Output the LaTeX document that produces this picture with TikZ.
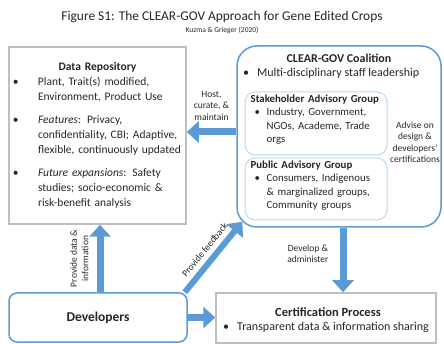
\documentclass[tikz,border=0pt]{standalone}
\usepackage{fontspec}
\setmainfont{Carlito}
\usetikzlibrary{arrows.meta,positioning}

\definecolor{arrblue}{HTML}{5B9BD5}
\definecolor{paleblue}{HTML}{BDD7EE}
\definecolor{boxgray}{HTML}{BFBFBF}
\definecolor{txtgray}{HTML}{262626}

% bullet line with hanging indent
\newcommand{\bul}[3][29pt]{\par\hangindent=#1\hangafter=1\noindent\makebox[#1][l]{\hspace{#2}\textbullet}#3}

\tikzset{
  graybox/.style={draw=boxgray,line width=1.5pt,inner sep=0pt},
  bluebox/.style={draw=arrblue,line width=1.5pt,rounded corners=#1,inner sep=0pt},
  palebox/.style={draw=paleblue,line width=1pt,rounded corners=10pt,inner sep=0pt},
  bigarrow/.style={draw=arrblue,line width=7pt,-{Triangle[length=12pt,width=21pt]}},
  small/.style={font=\fontsize{9.5}{11.5}\selectfont,align=center,inner sep=0pt},
  body/.style={font=\fontsize{11.5}{15}\selectfont,inner sep=0pt},
  inner/.style={font=\fontsize{10.8}{13.5}\selectfont,inner sep=0pt,text width=138pt,align=left,anchor=north west}
}

\begin{document}
\begin{tikzpicture}[x=1pt,y=-1pt,text=txtgray]
\useasboundingbox (0,0) rectangle (444,344);

\node[font=\fontsize{13.4}{15}\selectfont] (title) at (222,17) {Figure S1: The CLEAR-GOV Approach for Gene Edited Crops};
\node[font=\fontsize{7.5}{8}\selectfont] (sub) at (222,30) {Kuzma \& Grieger (2020)};

% boxes
\node[graybox,minimum width=177pt,minimum height=177pt] (repo) at (97.5,135.5) {};
\node[bluebox=20pt,minimum width=204pt,minimum height=181pt] (coal) at (339,136.5) {};
\node[palebox,minimum width=142pt,minimum height=63pt] (stake) at (316,123.5) {};
\node[palebox,minimum width=142pt,minimum height=62pt] (pub) at (316,189) {};
\node[bluebox=8pt,minimum width=178pt,minimum height=49pt] (dev) at (98,317.5) {};
\node[graybox,minimum width=220pt,minimum height=50pt] (cert) at (326,318) {};

% data repository
\node[body,text width=177pt,align=left] (repotxt) at (repo.center) {%
  {\centering\fontsize{11.5}{15}\selectfont\textbf{Data Repository}\par}
  \bul{4pt}{Plant, Trait(s) modified,\newline Environment, Product Use}
  \par\vspace{8pt}
  \bul{4pt}{\textit{Features}: Privacy,\newline confidentiality, CBI; Adaptive,\newline flexible, continuously updated}
  \par\vspace{8pt}
  \bul{4pt}{\textit{Future expansions}: Safety\newline studies; socio-economic \&\newline risk-benefit analysis}\par};

% coalition
\node[font=\fontsize{12}{14}\selectfont\bfseries] (coaltitle) at (339,58) {CLEAR-GOV Coalition};
\node[body,font=\fontsize{12}{14}\selectfont,anchor=west] (coallead) at (243,73) {\textbullet\hspace{8pt}Multi-disciplinary staff leadership};
\node[inner] (staketxt) at ([xshift=6pt,yshift=-3pt]stake.north west) {%
  \textbf{Stakeholder Advisory Group}
  \bul[16pt]{4pt}{Industry, Government,\newline NGOs, Academe, Trade\newline orgs}\par};
\node[inner] (pubtxt) at ([xshift=6pt,yshift=-3pt]pub.north west) {%
  \textbf{Public Advisory Group}
  \bul[16pt]{4pt}{Consumers, Indigenous\newline \& marginalized groups,\newline Community groups}\par};
\node[small] (advise) at (415,142) {Advise on\\ design \&\\ developers’\\ certifications};

% bottom row
\node[font=\fontsize{13.5}{15}\selectfont\bfseries] (devtxt) at (dev.center) {Developers};
\node[font=\fontsize{12.5}{14}\selectfont\bfseries] (certtitle) at (328,312) {Certification Process};
\node[font=\fontsize{12}{14}\selectfont,anchor=west,inner sep=0pt] (certtxt) at (223,327) {\textbullet\hspace{8pt}Transparent data \& information sharing};

% arrows
\draw[bigarrow] ([yshift=4.5pt]coal.west) -- ([yshift=4.5pt]coal.west -| repo.east)
  node[small,midway,above=8pt] {Host,\\ curate, \&\\ maintain};
\draw[bigarrow] ([xshift=2pt]dev.north) -- ([xshift=2pt]dev.north |- repo.south)
  node[small,midway,sloped,above=8pt] {Provide data \&\\ information};
\draw[bigarrow,line width=6pt] ([xshift=-3pt]dev.north east) -- ([shift={(6pt,6pt)}]coal.south west)
  node[small,midway,sloped,above=5pt] {Provide feedback};
\draw[bigarrow] ([xshift=4pt]coal.south) -- ([xshift=4pt]coal.south |- cert.north)
  node[small,pos=0.4,left=11pt] {Develop \&\\ administer};
\draw[bigarrow] (dev.east) -- (dev.east -| cert.west);
\end{tikzpicture}
\end{document}
